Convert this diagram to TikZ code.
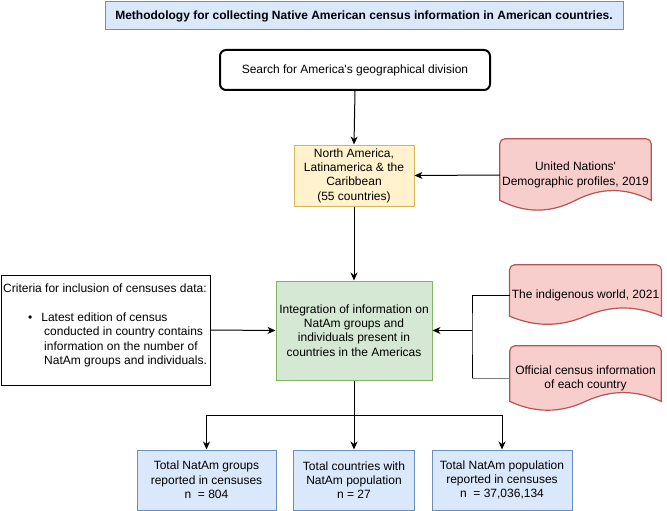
\documentclass[tikz,border=0pt]{standalone}
\usepackage{fontspec}
\setmainfont{Liberation Sans}
\usetikzlibrary{arrows.meta,calc,backgrounds}
\definecolor{blueF}{HTML}{DAE8FC}\definecolor{blueD}{HTML}{6C8EBF}
\definecolor{yelF}{HTML}{FFF2CC}\definecolor{yelD}{HTML}{D6B656}
\definecolor{greF}{HTML}{D5E8D4}\definecolor{greD}{HTML}{82B366}
\definecolor{redF}{HTML}{F8CECC}\definecolor{redD}{HTML}{B85450}
\tikzset{
  base/.style={inner sep=2pt, align=center, font=\fontsize{12}{14.3}\selectfont},
  bluebox/.style={base, draw=blueD, fill=blueF, line width=1pt},
  yelbox/.style={base, draw=yelD, fill=yelF, line width=1pt},
  grebox/.style={base, draw=greD, fill=greF, line width=1pt},
  docnode/.style={base},
  docline/.style={draw=redD, fill=redF, line width=1.2pt},
  plainbox/.style={base, draw=black, line width=1pt},
  arr/.style={line width=1pt, -{Stealth[length=8pt,width=7pt,inset=2.5pt]}},
  conn/.style={line width=1pt},
}
\newcommand\docshape[1]{%
  \draw[docline] let \p1=(#1.south west), \p2=(#1.north east), \n1={\y2-\y1}, \n2={\x2-\x1} in
   [rounded corners=5pt] (\x1,{\y1+0.15*\n1}) -- (\x1,\y2) -- (\x2,\y2) [sharp corners] -- (\x2,{\y1+0.15*\n1})
   .. controls ({\x2-\n2/6},{\y1+0.33*\n1}) and ({\x1+\n2/2+\n2/6},{\y1+0.33*\n1}) .. ({\x1+\n2/2},{\y1+0.15*\n1})
   .. controls ({\x1+\n2/2-\n2/6},{\y1-0.03*\n1}) and ({\x1+\n2/6},{\y1-0.03*\n1}) .. (\x1,{\y1+0.15*\n1}) -- cycle;}
\begin{document}
\begin{tikzpicture}[x=1pt,y=-1pt]
\useasboundingbox (0,0) rectangle (667,511);
% nodes
\node[bluebox, minimum width=518pt, minimum height=28pt, font=\fontsize{12}{14.3}\selectfont\bfseries] (title) at (364,16)
  {Methodology for collecting Native American census information in American countries.};
\node[base, draw=black, line width=2pt, rounded corners=6pt, minimum width=270pt, minimum height=40pt] (search) at (355,70)
  {Search for America\textquotesingle s geographical division};
\node[yelbox, minimum width=120pt, minimum height=61pt] (reg) at (354,175.5)
  {North America,\\Latinamerica \& the\\Caribbean\\(55 countries)};
\node[docnode, minimum width=151pt, minimum height=72pt] (un) at (575.5,175)
  {United Nations\textquotesingle\\Demographic profiles, 2019};
\node[grebox, minimum width=156pt, minimum height=99pt] (integ) at (354,330.5)
  {Integration of information on\\NatAm groups and\\individuals present in\\countries in the Americas};
\node[plainbox, minimum width=209pt, minimum height=110pt] (crit) at (105.5,330) {};
\node[base, align=left, anchor=north west, inner sep=0pt] (crittext) at (3,284)
  {Criteria for inclusion of censuses data:\\[14.3pt]
   \hspace*{25pt}\textbullet\hspace{9pt}Latest edition of census\\
   \hspace*{41pt}conducted in country contains\\
   \hspace*{41pt}information on the number of\\
   \hspace*{41pt}NatAm groups and individuals.};
\node[docnode, minimum width=151pt, minimum height=60pt] (ind) at (585.5,295)
  {The indigenous world, 2021};
\node[docnode, minimum width=151pt, minimum height=65pt] (off) at (585.5,378.5)
  {Official census information\\of each country};
\node[bluebox, minimum width=139pt, minimum height=60pt] (b1) at (206.5,480)
  {Total NatAm groups\\reported in censuses\\n~ = 804};
\node[bluebox, minimum width=121pt, minimum height=60pt] (b2) at (354,480)
  {Total countries with\\NatAm population\\n = 27};
\node[bluebox, minimum width=140pt, minimum height=60pt] (b3) at (502,480)
  {Total NatAm population\\reported in censuses\\n~ = 37,036,134};
\begin{scope}[on background layer]
  \docshape{un}
  \docshape{ind}
  \docshape{off}
\end{scope}
% connectors
\draw[arr] (search.south) -- (reg.north);
\draw[arr] (un.west) -- (reg.east);
\draw[arr] (reg.south) -- (integ.north);
\draw[arr] (crit.east) -- (integ.west);
\coordinate (jn) at (472,330.5);
\draw[conn] (ind.west) -| (jn) -- (jn |- off.west);
\draw[conn, draw=gray] (jn |- off.west) -- (off.west);
\draw[arr] (jn) -- (integ.east);
\coordinate (split) at (354,415);
\draw[conn] (integ.south) -- (split);
\draw[arr] (split) -| (b1.north);
\draw[arr] (split) -| (b3.north);
\draw[arr] (split) -- (b2.north);
\end{tikzpicture}
\end{document}
